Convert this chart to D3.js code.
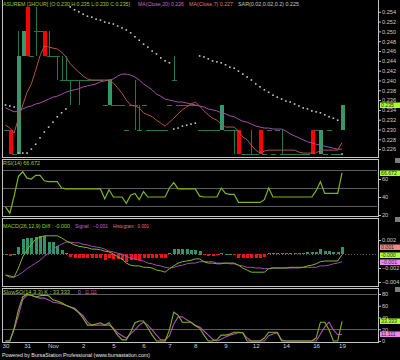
<!DOCTYPE html>
<html>
<head>
<meta charset="utf-8">
<script src="https://cdnjs.cloudflare.com/ajax/libs/d3/7.8.5/d3.min.js"></script>
<style>
body { margin: 0; background: #000; }
svg { display: block; }
</style>
</head>
<body>
<svg width="400" height="360"></svg>
<script>
// ---- data (hourly bars, 30 Oct .. 19 Nov) ----
var opens = [0.230,0.230,0.225,0.225,0.245,0.255,0.245,0.250,0.250,0.250,
    0.245,0.245,0.245,0.240,0.240,0.240,0.240,0.240,0.240,0.240,
    0.240,0.240,0.240,0.235,0.235,0.235,0.235,0.235,0.230,0.235,
    0.235,0.230,0.235,0.230,0.230,0.230,0.230,0.230,0.235,0.240,
    0.235,0.235,0.235,0.235,0.235,0.230,0.230,0.230,0.230,0.230,
    0.230,0.230,0.230,0.230,0.230,0.225,0.225,0.225,0.225,0.230,
    0.225,0.230,0.225,0.230,0.225,0.225,0.225,0.225,0.225,0.225,
    0.225,0.230,0.230,0.225,0.225,0.230,0.225,0.225,0.230];
var highs = [0.230,0.230,0.225,0.250,0.250,0.255,0.245,0.255,0.250,0.250,
    0.250,0.245,0.245,0.245,0.245,0.240,0.240,0.240,0.240,0.240,
    0.240,0.240,0.240,0.235,0.240,0.235,0.235,0.235,0.230,0.235,
    0.240,0.235,0.235,0.230,0.230,0.230,0.230,0.230,0.235,0.245,
    0.235,0.235,0.235,0.235,0.235,0.230,0.230,0.230,0.230,0.230,
    0.235,0.230,0.230,0.230,0.230,0.225,0.225,0.230,0.225,0.230,
    0.225,0.230,0.225,0.230,0.230,0.225,0.225,0.225,0.225,0.225,
    0.225,0.230,0.230,0.230,0.225,0.230,0.225,0.225,0.235];
var lows = [0.230,0.225,0.225,0.225,0.245,0.245,0.245,0.245,0.250,0.245,
    0.245,0.245,0.240,0.240,0.240,0.235,0.240,0.235,0.240,0.240,
    0.240,0.240,0.240,0.235,0.235,0.235,0.235,0.235,0.230,0.235,
    0.230,0.230,0.235,0.230,0.230,0.230,0.230,0.230,0.235,0.240,
    0.235,0.235,0.235,0.235,0.235,0.230,0.230,0.230,0.230,0.230,
    0.230,0.230,0.230,0.225,0.225,0.225,0.225,0.225,0.225,0.225,
    0.225,0.230,0.225,0.230,0.225,0.225,0.225,0.225,0.225,0.225,
    0.225,0.225,0.230,0.225,0.225,0.230,0.225,0.225,0.230];
var closes = [0.230,0.225,0.225,0.245,0.250,0.245,0.245,0.250,0.250,0.245,
    0.245,0.245,0.245,0.240,0.240,0.240,0.240,0.240,0.240,0.240,
    0.240,0.240,0.240,0.235,0.240,0.235,0.235,0.235,0.230,0.235,
    0.235,0.230,0.235,0.230,0.230,0.230,0.230,0.230,0.235,0.240,
    0.235,0.235,0.235,0.235,0.235,0.230,0.230,0.230,0.230,0.230,
    0.235,0.230,0.230,0.230,0.225,0.225,0.225,0.225,0.225,0.225,
    0.225,0.230,0.225,0.230,0.225,0.225,0.225,0.225,0.225,0.225,
    0.225,0.225,0.230,0.230,0.225,0.230,0.225,0.225,0.235];

var ma7 = [0.2309,0.2303,0.2293,0.2323,0.2350,0.2376,0.2393,0.2421,0.2450,0.2470,
    0.2468,0.2466,0.2464,0.2458,0.2448,0.2434,0.2425,0.2417,0.2409,0.2403,
    0.2401,0.2401,0.2401,0.2401,0.2401,0.2395,0.2385,0.2374,0.2360,0.2350,
    0.2348,0.2344,0.2334,0.2330,0.2326,0.2319,0.2313,0.2307,0.2315,0.2323,
    0.2332,0.2340,0.2346,0.2352,0.2356,0.2348,0.2338,0.2330,0.2323,0.2319,
    0.2311,0.2305,0.2305,0.2305,0.2297,0.2285,0.2279,0.2268,0.2258,0.2252,
    0.2256,0.2258,0.2258,0.2258,0.2258,0.2258,0.2258,0.2258,0.2254,0.2252,
    0.2252,0.2252,0.2252,0.2258,0.2258,0.2258,0.2258,0.2258,0.2273];
var ma20 = [0.2344,0.2340,0.2336,0.2338,0.2342,0.2346,0.2348,0.2352,0.2354,0.2358,
    0.2362,0.2366,0.2368,0.2372,0.2376,0.2379,0.2381,0.2383,0.2387,0.2389,
    0.2391,0.2393,0.2397,0.2399,0.2401,0.2403,0.2409,0.2413,0.2413,0.2411,
    0.2407,0.2401,0.2393,0.2387,0.2381,0.2372,0.2368,0.2362,0.2360,0.2358,
    0.2356,0.2356,0.2354,0.2352,0.2350,0.2348,0.2346,0.2342,0.2340,0.2338,
    0.2334,0.2332,0.2328,0.2326,0.2321,0.2317,0.2315,0.2311,0.2307,0.2305,
    0.2303,0.2303,0.2301,0.2301,0.2301,0.2297,0.2291,0.2287,0.2283,0.2279,
    0.2275,0.2273,0.2270,0.2268,0.2266,0.2264,0.2262,0.2260,0.2260];
var sar = [0.2350,0.2348,0.2346,0.2252,0.2252,0.2252,0.2260,0.2270,0.2283,0.2295,
    0.2305,0.2315,0.2326,0.2334,0.2342,0.2550,0.2544,0.2540,0.2535,0.2531,
    0.2529,0.2525,0.2523,0.2519,0.2517,0.2515,0.2511,0.2507,0.2503,0.2497,
    0.2489,0.2482,0.2474,0.2468,0.2460,0.2454,0.2446,0.2440,0.2436,0.2301,
    0.2303,0.2307,0.2309,0.2311,0.2313,0.2450,0.2448,0.2444,0.2440,0.2438,
    0.2436,0.2432,0.2427,0.2425,0.2419,0.2413,0.2407,0.2401,0.2393,0.2387,
    0.2381,0.2376,0.2370,0.2366,0.2362,0.2358,0.2356,0.2352,0.2348,0.2344,
    0.2342,0.2338,0.2336,0.2334,0.2330,0.2326,0.2323,0.2319,0.2250];

var rsi = [29,22,41,63,68,61,60,64,64,58,
    57,57,57,50,49,49,49,49,49,49,
    49,49,49,38,48,40,40,40,33,42,
    44,37,46,40,40,40,40,40,50,56,
    49,49,49,49,49,41,40,40,40,40,
    50,44,43,43,34,34,34,34,34,34,
    37,50,40,40,40,40,40,40,40,40,
    40,40,47,57,44,44,44,44,66.672];

var macdDiff = [-0.0030,-0.0033,-0.0033,-0.0020,-0.0004,0.0006,0.0014,0.0021,0.0024,0.0026,
    0.0026,0.0026,0.0026,0.0023,0.0019,0.0016,0.0013,0.0011,0.0010,0.0009,
    0.0007,0.0007,0.0006,0.0004,0.0003,0.0000,-0.0004,-0.0007,-0.0013,-0.0016,
    -0.0017,-0.0017,-0.0019,-0.0019,-0.0020,-0.0023,-0.0024,-0.0026,-0.0021,-0.0017,
    -0.0013,-0.0011,-0.0010,-0.0009,-0.0007,-0.0007,-0.0011,-0.0013,-0.0013,-0.0014,
    -0.0014,-0.0013,-0.0013,-0.0013,-0.0016,-0.0020,-0.0023,-0.0026,-0.0026,-0.0026,
    -0.0026,-0.0021,-0.0020,-0.0020,-0.0020,-0.0020,-0.0019,-0.0019,-0.0019,-0.0019,
    -0.0017,-0.0016,-0.0014,-0.0011,-0.0010,-0.0010,-0.0010,-0.0010,-0.0001];
var macdSignal = [-0.0030,-0.0031,-0.0033,-0.0030,-0.0026,-0.0021,-0.0017,-0.0013,-0.0009,-0.0003,
    0.0001,0.0006,0.0011,0.0014,0.0017,0.0017,0.0016,0.0016,0.0014,0.0013,
    0.0011,0.0010,0.0009,0.0007,0.0004,0.0003,0.0001,0.0000,-0.0003,-0.0006,
    -0.0007,-0.0009,-0.0010,-0.0013,-0.0014,-0.0016,-0.0017,-0.0019,-0.0020,-0.0019,
    -0.0017,-0.0016,-0.0014,-0.0013,-0.0013,-0.0011,-0.0011,-0.0011,-0.0011,-0.0013,
    -0.0013,-0.0013,-0.0014,-0.0014,-0.0016,-0.0017,-0.0019,-0.0019,-0.0020,-0.0020,
    -0.0021,-0.0021,-0.0020,-0.0020,-0.0020,-0.0020,-0.0020,-0.0020,-0.0020,-0.0019,
    -0.0019,-0.0019,-0.0019,-0.0017,-0.0017,-0.0016,-0.0014,-0.0013,-0.0011];
var macdHist = [0,-0.0003,0,0.0010,0.0021,0.0023,0.0023,0.0024,0.0026,0.0026,
    0.0017,0.0017,0.0011,0.0006,0.0001,-0.0004,-0.0005,-0.0005,-0.0005,-0.0005,
    -0.0005,-0.0005,-0.0005,-0.0008,-0.0006,-0.0007,-0.0007,-0.0009,-0.0011,-0.0009,
    -0.0008,-0.0008,-0.0006,-0.0005,-0.0005,-0.0005,-0.0005,-0.0005,0.0001,0.0007,
    0.0007,0.0007,0.0007,0.0006,0.0006,0.0005,-0.0002,-0.0003,-0.0003,-0.0002,
    0.0001,0,0,-0.0001,-0.0005,-0.0006,-0.0006,-0.0006,-0.0006,-0.0005,
    -0.0004,0.0001,0.0001,0.0001,0.0001,0.0001,0.0001,0.0001,0.0001,0.0002,
    0.0003,0.0003,0.0003,0.0007,0.0004,0.0004,0.0003,0.0003,0.0010];

var stochK = [0,0,22,53,75,80,78,75,77,78,
    77,70,68,65,61,58,54,48,39,27,
    27,29,31,27,31,20,10,2,2,15,
    31,34,34,22,10,0,0,0,19,49,
    44,32,32,32,26,22,10,0,0,2,
    10,10,12,15,15,14,0,0,0,0,
    5,15,15,15,0,0,0,0,0,0,
    0,0,5,32,32,19,0,0,33.333];
var stochD = [0,0,19,44,71,78,78,75,73,73,
    70,66,65,63,61,58,56,49,43,32,
    27,27,27,27,27,22,14,9,5,12,
    19,27,32,27,19,10,2,2,9,29,
    41,41,36,32,27,24,17,10,3,0,
    3,7,10,12,14,14,5,0,0,0,
    0,9,12,14,2,0,0,0,0,0,
    0,0,0,12,24,32,19,11,11.111];

var dateLabels = ["30", "31", "Nov", "2", "5", "6", "7", "8", "9", "12", "14", "16", "19"];
var dateIdx = [0, 5, 11, 18, 25, 32, 38, 44, 51, 58, 65, 72, 78];

var priceTicks = [0.254, 0.252, 0.250, 0.248, 0.246, 0.244, 0.242, 0.240, 0.238, 0.236, 0.234, 0.232, 0.230, 0.228, 0.226];
var rsiTicks = [60, 40, 20];
var rsiLevels = [70, 50, 30];
var macdTicks = [0.002, -0.002, -0.004];
var stochTicks = [80, 60, 40, 20, 0];
var stochLevels = [80, 20];

// ---- drawing ----
var font = "'Liberation Sans', Arial, sans-serif";
var green = "#9acd32", violet = "#c46ccc", salmon = "#e47a72";

var svg = d3.select("svg");
svg.append("rect").attr("width", 400).attr("height", 360).attr("fill", "#000");

var panels = [
    { name: "price", top: -1, bottom: 157 },
    { name: "rsi", top: 159, bottom: 216 },
    { name: "macd", top: 218, bottom: 286 },
    { name: "stoch", top: 288, bottom: 342 }
];

var x = d3.scaleLinear().domain([0, closes.length - 1]).range([5.5, 342]);
var yPrice = d3.scaleLinear().domain([0.2244, 0.2564]).range([157, 0]);
var yRsi = d3.scaleLinear().domain([20, 60]).range([215, 179]);
var yMacd = d3.scaleLinear().domain([-0.004, 0.002]).range([282, 240]);
var yStoch = d3.scaleLinear().domain([0, 80]).range([341, 294]);

var defs = svg.append("defs");
var layers = {};
panels.forEach(function (p) {
    defs.append("clipPath").attr("id", "clip-" + p.name)
        .append("rect")
        .attr("x", 3).attr("y", p.top + 1)
        .attr("width", 375).attr("height", p.bottom - p.top - 1);
    layers[p.name] = svg.append("g").attr("clip-path", "url(#clip-" + p.name + ")");
});

function hLines(g, scale, levels, color, dash) {
    g.selectAll(null)
        .data(levels)
        .enter()
        .append("line")
        .attr("x1", 3).attr("x2", 377)
        .attr("y1", function (d) { return Math.round(scale(d)) + 0.5; })
        .attr("y2", function (d) { return Math.round(scale(d)) + 0.5; })
        .attr("stroke", color)
        .attr("stroke-dasharray", dash || null)
        .attr("shape-rendering", "crispEdges");
}

function drawLine(g, values, scale, color, width) {
    var line = d3.line()
        .x(function (d, i) { return x(i); })
        .y(function (d) { return scale(d); });
    g.append("path")
        .datum(values)
        .attr("d", line)
        .attr("fill", "none")
        .attr("stroke", color)
        .attr("stroke-width", width || 1);
}

// price panel: candles
var gp = layers.price;
var bars = closes.map(function (c, i) {
    return { i: i, o: opens[i], h: highs[i], l: lows[i], c: c };
});

gp.selectAll("line.wick")
    .data(bars.filter(function (d) { return d.h > Math.max(d.o, d.c) || d.l < Math.min(d.o, d.c); }))
    .enter()
    .append("line")
    .attr("class", "wick")
    .attr("x1", function (d) { return Math.round(x(d.i)) + 0.5; })
    .attr("x2", function (d) { return Math.round(x(d.i)) + 0.5; })
    .attr("y1", function (d) { return Math.round(yPrice(d.h)); })
    .attr("y2", function (d) { return Math.round(yPrice(d.l)); })
    .attr("stroke", "#23794a")
    .attr("shape-rendering", "crispEdges");

gp.selectAll("line.doji")
    .data(bars.filter(function (d) { return d.o === d.c; }))
    .enter()
    .append("line")
    .attr("class", "doji")
    .attr("x1", function (d) { return Math.round(x(d.i)) - 2; })
    .attr("x2", function (d) { return Math.round(x(d.i)) + 3; })
    .attr("y1", function (d) { return Math.round(yPrice(d.c)) + 0.5; })
    .attr("y2", function (d) { return Math.round(yPrice(d.c)) + 0.5; })
    .attr("stroke", "#23794a")
    .attr("shape-rendering", "crispEdges");

gp.selectAll("rect.body")
    .data(bars.filter(function (d) { return d.o !== d.c; }))
    .enter()
    .append("rect")
    .attr("class", "body")
    .attr("x", function (d) { return Math.round(x(d.i)) - 1.5; })
    .attr("width", 4)
    .attr("y", function (d) { return Math.round(yPrice(Math.max(d.o, d.c))); })
    .attr("height", function (d) { return Math.round(yPrice(Math.min(d.o, d.c))) - Math.round(yPrice(Math.max(d.o, d.c))); })
    .attr("fill", function (d) { return d.c > d.o ? "#37976a" : "#ff0000"; })
    .attr("shape-rendering", "crispEdges");

drawLine(gp, ma20, yPrice, "#a64ea9", 1);
drawLine(gp, ma7, yPrice, "#b0544c", 1);

gp.selectAll("rect.sar")
    .data(sar)
    .enter()
    .append("rect")
    .attr("class", "sar")
    .attr("x", function (d, i) { return x(i) - 0.8; })
    .attr("y", function (d) { return yPrice(d) - 0.8; })
    .attr("width", 1.6).attr("height", 1.6)
    .attr("fill", "#c8c8c8");

// RSI panel
var gr = layers.rsi;
hLines(gr, yRsi, rsiLevels, "#5c5c5c");
drawLine(gr, rsi, yRsi, "#84b21c", 1.2);

// MACD panel
var gm = layers.macd;
hLines(gm, yMacd, [0], "#606060", "1,2");
gm.selectAll("rect.hist")
    .data(macdHist)
    .enter()
    .append("rect")
    .attr("class", "hist")
    .attr("x", function (d, i) { return Math.round(x(i)) - 1; })
    .attr("width", 3)
    .attr("y", function (d) { return Math.round(Math.min(yMacd(d), yMacd(0))); })
    .attr("height", function (d) { return Math.max(1, Math.round(Math.abs(yMacd(d) - yMacd(0)))); })
    .attr("fill", function (d) { return d >= 0 ? "#33936a" : "#ff1010"; })
    .attr("shape-rendering", "crispEdges");
drawLine(gm, macdSignal, yMacd, "#a24db3", 1);
drawLine(gm, macdDiff, yMacd, "#86b81a", 1);

// Stochastic panel
var gs = layers.stoch;
hLines(gs, yStoch, stochLevels, "#5c5c5c");
drawLine(gs, stochD, yStoch, "#b04cc0", 1.1);
drawLine(gs, stochK, yStoch, "#84b21c", 1.1);

// frames
panels.forEach(function (p) {
    svg.append("rect")
        .attr("x", 2.5).attr("y", p.top + 0.5)
        .attr("width", 376).attr("height", p.bottom - p.top)
        .attr("fill", "none")
        .attr("stroke", "#c4c4c4")
        .attr("shape-rendering", "crispEdges");
    if (p.top > 0) {
        svg.append("rect")
            .attr("x", 395).attr("y", p.top - 1)
            .attr("width", 5).attr("height", 5)
            .attr("fill", "#7c7c7c");
    }
});

// right axes
function rightAxis(scale, values, fmt) {
    var g = svg.append("g")
        .attr("transform", "translate(379,0)")
        .call(d3.axisRight(scale).tickValues(values).tickSize(2).tickPadding(1).tickFormat(fmt));
    g.attr("font-size", 5.6).attr("font-family", font);
    g.select(".domain").remove();
    g.selectAll("line").attr("stroke", "#c0c0c0");
    g.selectAll("text").attr("fill", "#cfcfcf");
}
rightAxis(yPrice, priceTicks, d3.format(".3f"));
rightAxis(yRsi, rsiTicks, d3.format("d"));
rightAxis(yMacd, macdTicks, d3.format(".3f"));
rightAxis(yStoch, stochTicks, d3.format("d"));

function valueBox(yc, txt, fill) {
    svg.append("rect")
        .attr("x", 380).attr("y", Math.round(yc) - 2.5)
        .attr("width", 20).attr("height", 5.5)
        .attr("fill", fill);
    svg.append("text")
        .attr("x", 381).attr("y", Math.round(yc) + 2)
        .attr("font-size", 5.2).attr("font-family", font)
        .attr("fill", "#2a2a2a")
        .text(txt);
}
var last = closes.length - 1;
valueBox(yPrice(closes[last]), d3.format(".3f")(closes[last]), "#adff2f");
valueBox(yRsi(rsi[last]), d3.format(".3f")(rsi[last]), "#adff2f");
valueBox(yMacd(macdHist[last]), d3.format(".3f")(macdHist[last]), "#f08880");
valueBox(yMacd(macdDiff[last]), "-" + d3.format(".3f")(Math.abs(macdDiff[last])), "#adff2f");
valueBox(yMacd(macdSignal[last]), d3.format(".3f")(macdSignal[last]), "#ee88ee");
valueBox(yStoch(stochK[last]), d3.format(".3f")(stochK[last]), "#adff2f");
valueBox(yStoch(stochD[last]), d3.format(".3f")(stochD[last]), "#ee88ee");

// date axis
var gx = svg.append("g")
    .attr("transform", "translate(0,342)")
    .call(d3.axisBottom(x).tickValues(dateIdx).tickSize(0).tickPadding(2)
        .tickFormat(function (d, i) { return dateLabels[i]; }));
gx.attr("font-size", 6.2).attr("font-family", font);
gx.select(".domain").remove();
gx.selectAll("text").attr("fill", "#d0d0d0");

// captions
function caption(tx, ty, txt, color, len) {
    svg.append("text")
        .attr("x", tx).attr("y", ty)
        .attr("font-size", 5.6).attr("font-family", font)
        .attr("fill", color)
        .attr("textLength", len)
        .attr("lengthAdjust", "spacingAndGlyphs")
        .text(txt);
}
var f3 = d3.format(".3f");
caption(3, 5.5, "ASUREM [1HOUR] [O:" + f3(opens[last]) + " H:" + f3(highs[last]) + " L:" + f3(lows[last]) + " C:" + f3(closes[last]) + "]", green, 127);
caption(138, 5.5, "MA(Close,20) " + f3(ma20[last]), violet, 46);
caption(189, 5.5, "MA(Close,7) " + f3(ma7[last]), salmon, 44);
caption(238, 5.5, "SAR(0.02,0.02,0.2) " + f3(sar[last]), "#c8c8c8", 61);
caption(3, 165, "RSI(14) " + f3(rsi[last]), green, 37);
caption(3, 228, "MACD(26,12,9) Diff : -" + f3(Math.abs(macdDiff[last])), green, 67);
caption(75, 228, "Signal : " + f3(macdSignal[last]), violet, 33);
caption(113, 228, "Histogram : " + f3(macdHist[last]), salmon, 36);
caption(3, 294, "SlowSO(14,3,3) K : " + f3(stochK[last]), green, 67);
caption(78, 294, "D : " + f3(stochD[last]), violet, 19);
caption(2, 357, "Powered by BursaStation Professional (www.bursastation.com)", "#e8e8e8", 148);
</script>
</body>
</html>
